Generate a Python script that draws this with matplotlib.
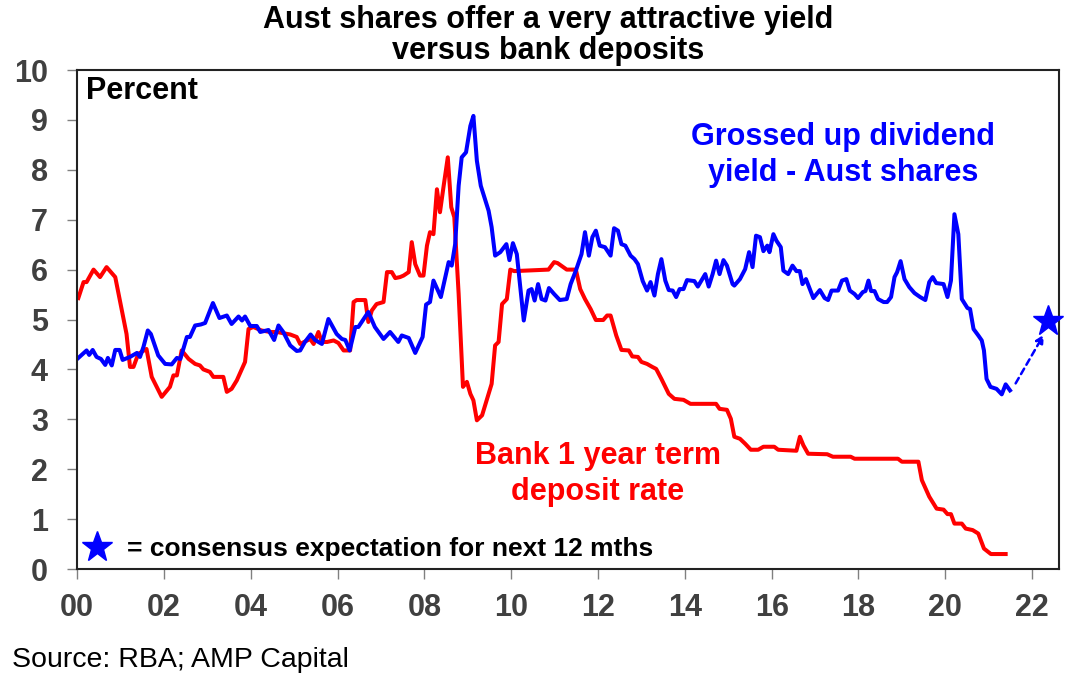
import matplotlib
matplotlib.use("Agg")
import matplotlib.pyplot as plt

plt.rcParams['font.family'] = ['Liberation Sans', 'DejaVu Sans']

# Bank 1 year term deposit rate (years since 2000, percent)
dep_x = [0.03, 0.15, 0.22, 0.38, 0.53, 0.68, 0.88, 1.14, 1.22, 1.3, 1.41, 1.6, 1.72, 1.95,
         2.14, 2.22, 2.3, 2.41, 2.57, 2.72, 2.83, 2.91, 3.06, 3.14, 3.37, 3.45, 3.56, 3.68,
         3.87, 3.95, 4.06, 4.25, 4.45, 4.6, 4.91, 5.06, 5.14, 5.37, 5.45, 5.56, 5.64, 5.76,
         5.91, 6.02, 6.14, 6.29, 6.37, 6.44, 6.64, 6.71, 6.79, 6.9, 7.06, 7.14, 7.25, 7.33,
         7.44, 7.52, 7.64, 7.71, 7.79, 7.9, 7.98, 8.06, 8.13, 8.21, 8.29, 8.36, 8.44, 8.54,
         8.62, 8.69, 8.79, 8.89, 8.98, 9.06, 9.13, 9.21, 9.33, 9.48, 9.55, 9.63, 9.71, 9.79,
         9.9, 9.98, 10.07, 10.86, 10.99, 11.07, 11.28, 11.49, 11.59, 11.7, 11.83, 11.95,
         12.12, 12.21, 12.29, 12.42, 12.54, 12.71, 12.79, 12.92, 13.0, 13.13, 13.25, 13.34,
         13.46, 13.63, 13.76, 13.97, 14.13, 14.72, 14.8, 14.97, 15.06, 15.14, 15.27, 15.39,
         15.52, 15.69, 15.81, 16.06, 16.15, 16.36, 16.57, 16.65, 16.73, 16.84, 17.28, 17.41,
         17.82, 17.91, 18.91, 19.0, 19.38, 19.46, 19.63, 19.8, 19.96, 20.05, 20.13, 20.21,
         20.38, 20.47, 20.63, 20.76, 20.89, 21.05, 21.39]
dep_y = [5.43, 5.75, 5.75, 6.0, 5.85, 6.05, 5.85, 4.71, 4.05, 4.05, 4.31, 4.41, 3.85, 3.45,
         3.65, 3.88, 3.88, 4.38, 4.21, 4.11, 4.08, 4.0, 3.95, 3.85, 3.85, 3.55, 3.61, 3.78,
         4.15, 4.81, 4.85, 4.78, 4.75, 4.75, 4.7, 4.65, 4.51, 4.61, 4.51, 4.75, 4.55, 4.55,
         4.58, 4.53, 4.38, 4.38, 5.35, 5.39, 5.39, 4.95, 5.18, 5.31, 5.35, 5.95, 5.95, 5.83,
         5.85, 5.88, 5.95, 6.55, 6.11, 5.88, 5.88, 6.48, 6.75, 6.71, 7.61, 7.15, 7.65, 8.25,
         7.25, 7.05, 5.51, 3.65, 3.75, 3.51, 3.38, 2.98, 3.08, 3.51, 3.71, 4.48, 4.55, 5.31,
         5.41, 6.0, 5.97, 6.0, 6.15, 6.13, 6.0, 6.0, 5.61, 5.41, 5.21, 4.99,
         4.99, 5.08, 5.08, 4.68, 4.39, 4.38, 4.26, 4.25, 4.15, 4.11, 4.05, 4.01,
         3.81, 3.51, 3.41, 3.39, 3.31, 3.31, 3.21, 3.19, 3.01, 2.65, 2.61, 2.51,
         2.39, 2.39, 2.45, 2.45, 2.39, 2.38, 2.37, 2.65, 2.48, 2.31, 2.3, 2.25,
         2.25, 2.21, 2.21, 2.15, 2.15, 1.78, 1.45, 1.21, 1.19, 1.1, 1.1, 0.91,
         0.91, 0.81, 0.78, 0.71, 0.41, 0.3, 0.3]

# Grossed up dividend yield - Aust shares
div_x = [0.03, 0.22, 0.28, 0.36, 0.45, 0.55, 0.65, 0.71, 0.8, 0.88, 0.98, 1.05, 1.22, 1.38,
         1.45, 1.53, 1.63, 1.7, 1.87, 2.03, 2.18, 2.3, 2.38, 2.53, 2.6, 2.72, 2.85, 2.95,
         3.13, 3.28, 3.45, 3.56, 3.72, 3.8, 3.87, 3.99, 4.14, 4.22, 4.41, 4.54, 4.64, 4.75,
         4.91, 5.06, 5.14, 5.25, 5.38, 5.48, 5.64, 5.79, 5.98, 6.1, 6.18, 6.28, 6.41, 6.48,
         6.71, 6.86, 7.06, 7.21, 7.4, 7.48, 7.64, 7.79, 7.96, 8.04, 8.13, 8.21, 8.38, 8.56,
         8.63, 8.71, 8.79, 8.86, 8.96, 9.06, 9.13, 9.21, 9.3, 9.48, 9.55, 9.63, 9.75, 9.89,
         9.96, 10.04, 10.13, 10.29, 10.4, 10.47, 10.54, 10.62, 10.7, 10.79, 10.87, 10.99,
         11.12, 11.28, 11.37, 11.49, 11.62, 11.7, 11.79, 11.87, 11.95, 12.04, 12.16, 12.29,
         12.37, 12.46, 12.54, 12.63, 12.75, 12.84, 12.92, 13.03, 13.13, 13.21, 13.3, 13.38,
         13.46, 13.55, 13.63, 13.72, 13.8, 13.88, 13.97, 14.05, 14.22, 14.3, 14.47, 14.55,
         14.64, 14.72, 14.8, 14.89, 14.97, 15.1, 15.14, 15.27, 15.39, 15.48, 15.56, 15.64,
         15.73, 15.81, 15.9, 15.95, 16.04, 16.11, 16.21, 16.27, 16.38, 16.48, 16.57, 16.65,
         16.71, 16.79, 16.88, 16.96, 17.11, 17.22, 17.3, 17.38, 17.53, 17.62, 17.72, 17.8,
         17.91, 17.99, 18.1, 18.16, 18.23, 18.29, 18.37, 18.45, 18.58, 18.66, 18.75, 18.83,
         18.89, 18.97, 19.06, 19.17, 19.29, 19.42, 19.54, 19.63, 19.71, 19.79, 19.96, 20.05,
         20.13, 20.21, 20.3, 20.38, 20.51, 20.57, 20.65, 20.76, 20.84, 20.89, 20.95, 21.04,
         21.18, 21.3, 21.39, 21.49]
div_y = [4.23, 4.38, 4.29, 4.39, 4.25, 4.21, 4.09, 4.23, 4.08, 4.39, 4.39, 4.19, 4.25, 4.33,
         4.25, 4.45, 4.78, 4.71, 4.28, 4.11, 4.1, 4.23, 4.21, 4.65, 4.65, 4.88, 4.9, 4.93,
         5.33, 5.03, 5.08, 4.91, 5.06, 4.98, 5.06, 4.87, 4.87, 4.75, 4.79, 4.59, 4.88, 4.75,
         4.48, 4.37, 4.38, 4.55, 4.7, 4.59, 4.51, 5.01, 4.71, 4.61, 4.59, 4.38, 4.85, 4.85,
         5.15, 4.85, 4.61, 4.75, 4.55, 4.68, 4.63, 4.33, 4.65, 5.3, 5.35, 5.78, 5.45, 6.15,
         6.08, 6.51, 7.68, 8.25, 8.35, 8.88, 9.08, 8.18, 7.68, 7.18, 6.85, 6.28, 6.35, 6.51,
         6.19, 6.53, 6.31, 4.98, 5.58, 5.61, 5.38, 5.71, 5.41, 5.38, 5.63, 5.51,
         5.39, 5.41, 5.71, 5.98, 6.31, 6.75, 6.28, 6.65, 6.78, 6.48, 6.45, 6.28,
         6.83, 6.78, 6.51, 6.48, 6.28, 6.21, 6.11, 5.77, 5.58, 5.75, 5.48, 5.91,
         6.21, 5.78, 5.59, 5.58, 5.45, 5.61, 5.61, 5.79, 5.77, 5.66, 5.91, 5.66,
         5.91, 6.18, 5.91, 6.19, 6.08, 5.71, 5.68, 5.81, 6.01, 6.35, 6.05, 6.68,
         6.65, 6.37, 6.48, 6.35, 6.71, 6.58, 6.45, 5.98, 5.91, 6.08, 5.97, 5.97,
         5.71, 5.81, 5.61, 5.43, 5.59, 5.43, 5.39, 5.58, 5.58, 5.78, 5.81, 5.58,
         5.51, 5.43, 5.55, 5.57, 5.78, 5.57, 5.57, 5.41, 5.35, 5.35, 5.45, 5.85,
         5.95, 6.17, 5.81, 5.65, 5.53, 5.45, 5.39, 5.75, 5.85, 5.73, 5.71, 5.45,
         5.78, 7.11, 6.71, 5.41, 5.23, 5.21, 4.81, 4.68, 4.58, 4.38, 3.81, 3.65,
         3.61, 3.5, 3.7, 3.58]

# consensus expectation for next 12 months
arrow_from = (21.62, 3.72)
arrow_to = (22.27, 4.7)
star_x, star_y = 22.37, 4.98

xticks = list(range(0, 23, 2))
xlabels = ['00', '02', '04', '06', '08', '10', '12', '14', '16', '18', '20', '22']
yticks = list(range(0, 11))

blue = '#0000FF'
red = '#FF0000'

fig = plt.figure(figsize=(10.73, 6.83), dpi=100)
ax = fig.add_axes([0.0718, 0.1669, 0.9152, 0.7306])

ax.plot(dep_x, dep_y, color=red, lw=2.9, solid_joinstyle='round')
ax.plot(div_x, div_y, color=blue, lw=2.9, solid_joinstyle='round')
ax.annotate('', xy=arrow_to, xytext=arrow_from,
            arrowprops=dict(arrowstyle='-|>', color=blue, lw=1.8, linestyle=(0, (2.5, 1.8)),
                            mutation_scale=12, shrinkA=0, shrinkB=0))
ax.plot([star_x], [star_y], marker='*', color=blue, markersize=23, clip_on=False, zorder=5)

ax.set_xlim(0, 22.62)
ax.set_ylim(0, 10)
ax.set_xticks(xticks)
ax.set_xticklabels(xlabels)
ax.set_yticks(yticks)
ax.tick_params(axis='both', direction='out', color='#808080', length=7, width=1,
               labelsize=22, labelcolor='#404040')
ax.tick_params(axis='x', pad=10)
ax.tick_params(axis='y', pad=14)
for lab in ax.get_xticklabels() + ax.get_yticklabels():
    lab.set_fontweight('bold')
for sp in ax.spines.values():
    sp.set_color('#222222')
    sp.set_linewidth(1.5)

ax.text(0.009, 0.957, 'Percent', transform=ax.transAxes, fontsize=22, fontweight='bold',
        ha='left', va='center')
ax.text(17.65, 8.3, 'Grossed up dividend\nyield - Aust shares', color=blue, fontsize=22,
        fontweight='bold', ha='center', va='center', linespacing=1.26)
ax.text(12.0, 1.9, 'Bank 1 year term\ndeposit rate', color=red, fontsize=22,
        fontweight='bold', ha='center', va='center', linespacing=1.26)
ax.plot([0.46], [0.44], marker='*', color=blue, markersize=23, zorder=5)
ax.text(1.16, 0.4, '= consensus expectation for next 12 mths', fontsize=19,
        fontweight='bold', ha='left', va='center')

fig.text(0.511, 0.948, 'Aust shares offer a very attractive yield\nversus bank deposits',
         fontsize=22, fontweight='bold', ha='center', va='center', linespacing=1.02)
fig.text(0.011, 0.034, 'Source: RBA; AMP Capital', fontsize=20.5, ha='left', va='center')

fig.savefig('out.png', dpi=100)
